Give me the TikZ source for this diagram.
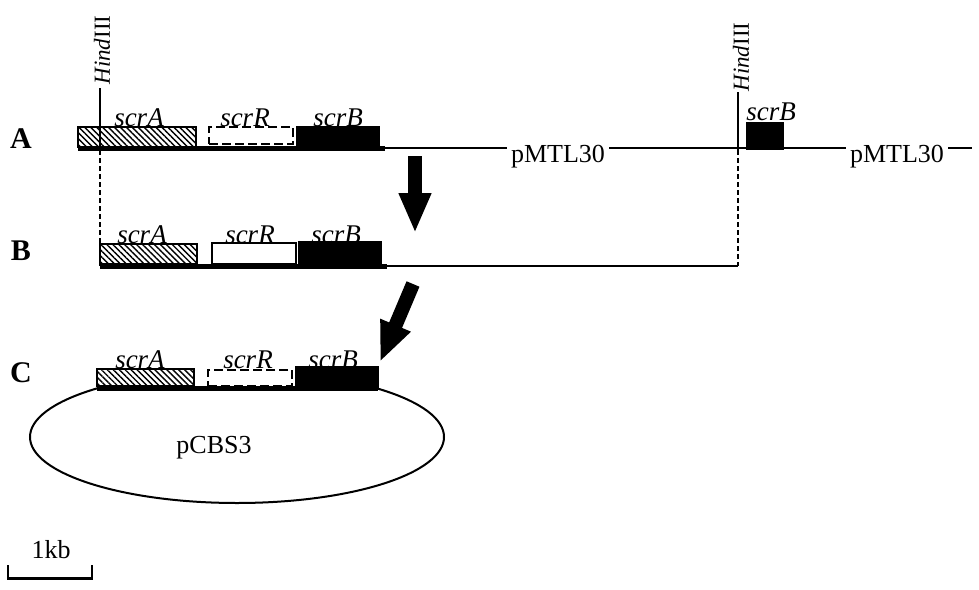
\documentclass[tikz,border=0pt]{standalone}
\usepackage{fontspec}
\setmainfont{Liberation Serif}
\usetikzlibrary{patterns,patterns.meta,arrows.meta}
\begin{document}
\begin{tikzpicture}[x=1pt,y=-1pt,
  box/.style={draw,line width=2pt,inner sep=0pt,outer sep=0pt,anchor=south west},
  hatchbox/.style={box,pattern={Lines[angle=-45,distance=4.2pt,line width=1.4pt]}},
  whitebox/.style={box,fill=white},
  brokenbox/.style={box,fill=white,dash pattern=on 9pt off 4pt,line width=1.6pt},
  blackbox/.style={box,fill=black},
  gene/.style={font=\fontsize{27}{29}\selectfont\itshape,anchor=base,inner sep=0pt},
  rowlab/.style={font=\fontsize{30}{32}\selectfont\bfseries,anchor=base,inner sep=0pt},
  plab/.style={font=\fontsize{26}{28}\selectfont,anchor=base,inner sep=0pt},
  sitelab/.style={font=\fontsize{23}{25}\selectfont,rotate=90,anchor=center,inner sep=0pt},
  thickdna/.style={line width=5pt},
  thindna/.style={line width=2.5pt},
  guide/.style={line width=1.5pt,dash pattern=on 5pt off 3pt},
  bigarrow/.style={line width=14pt,-{Triangle[width=30pt,length=40pt]}}
]
\useasboundingbox (0,0) rectangle (979,589);

% ---------------- Row A ----------------
\node[rowlab] (labA) at (21,148) {A};
\coordinate (A0) at (78,148);
\coordinate (A1) at (385,148);
\coordinate (Aend) at (972,148);
\node[plab] (pA1) at (558,162) {pMTL30};
\node[plab] (pA2) at (897,162) {pMTL30};
\draw[thickdna] (A0) -- (A1);
\draw[thindna] (A1) -- ([xshift=-4pt]A1 -| pA1.west);
\draw[thindna] ([xshift=4pt]A1 -| pA1.east) -- ([xshift=-4pt]A1 -| pA2.west);
\draw[thindna] ([xshift=4pt]A1 -| pA2.east) -- (Aend);

\node[hatchbox,minimum width=118pt,minimum height=20pt] (Aa) at (78,147) {};
\node[brokenbox,minimum width=84pt,minimum height=17pt] (Ar) at (209,144) {};
\node[blackbox,minimum width=82pt,minimum height=20pt] (Ab) at (297,147) {};
\node[blackbox,minimum width=36pt,minimum height=26pt] (Ab2) at (747,149) {};

\node[gene] (tAa) at (139,126) {scrA};
\node[gene] (tAr) at (245,126) {scrR};
\node[gene] (tAb) at (338,126) {scrB};
\node[gene] (tAb2) at (771,120) {scrB};

% HindIII sites
\coordinate (H1top) at (100,88);
\coordinate (H1bot) at (100,150);
\coordinate (H2top) at (738,92);
\coordinate (H2bot) at (738,150);
\draw[thindna] (H1top) -- (H1bot);
\draw[thindna] (H2top) -- (H2bot);
\node[sitelab] (H1) at (102,50) {\textit{Hind}III};
\node[sitelab] (H2) at (741,57) {\textit{Hind}III};

% ---------------- Row B ----------------
\node[rowlab] (labB) at (21,260) {B};
\coordinate (B0) at (100,266);
\coordinate (B1) at (387,266);
\coordinate (Bend) at (738,266);
\draw[guide] (H1bot) -- (B0);
\draw[guide] (H2bot) -- (Bend);
\draw[thickdna] (B0) -- (B1);
\draw[thindna] (B1) -- (Bend);

\node[hatchbox,minimum width=97pt,minimum height=20pt] (Ba) at (100,264) {};
\node[whitebox,minimum width=84pt,minimum height=21pt] (Br) at (212,264) {};
\node[blackbox,minimum width=82pt,minimum height=22pt] (Bb) at (299,264) {};

\node[gene] (tBa) at (142,243) {scrA};
\node[gene] (tBr) at (250,243) {scrR};
\node[gene] (tBb) at (336,243) {scrB};

% arrows
\coordinate (ar1s) at (415,156);
\coordinate (ar1e) at (415,233);
\draw[bigarrow] (ar1s) -- (ar1e);
\coordinate (ar2s) at (413,284);
\coordinate (ar2e) at (380,362);
\draw[bigarrow] (ar2s) -- (ar2e);

% ---------------- Row C ----------------
\node[rowlab] (labC) at (21,382) {C};
\begin{scope}
  \clip (0,300) -- (97,300) -- (97,388) -- (378,388) -- (378,300) -- (979,300) -- (979,589) -- (0,589) -- cycle;
  \draw[line width=2pt] (237,437) ellipse [x radius=207pt, y radius=66pt];
\end{scope}
\coordinate (C0) at (97,388);
\coordinate (C1) at (378,388);
\draw[thickdna] (C0) -- (C1);

\node[hatchbox,minimum width=97pt,minimum height=17pt] (Ca) at (97,386) {};
\node[brokenbox,minimum width=84pt,minimum height=16pt] (Cr) at (208,386) {};
\node[blackbox,minimum width=82pt,minimum height=20pt] (Cb) at (296,387) {};

\node[gene] (tCa) at (140,368) {scrA};
\node[gene] (tCr) at (248,368) {scrR};
\node[gene] (tCb) at (333,368) {scrB};

\node[plab] (pC) at (214,453) {pCBS3};

% ---------------- scale bar ----------------
\coordinate (s0) at (8,578);
\coordinate (s1) at (92,578);
\coordinate (s0t) at (8,565);
\coordinate (s0b) at (8,580);
\coordinate (s1t) at (92,565);
\coordinate (s1b) at (92,580);
\draw[line width=3pt] (s0) -- (s1);
\draw[line width=2.5pt] (s0t) -- (s0b);
\draw[line width=2.5pt] (s1t) -- (s1b);
\node[plab] (kb) at (51,558) {1kb};
\end{tikzpicture}
\end{document}
